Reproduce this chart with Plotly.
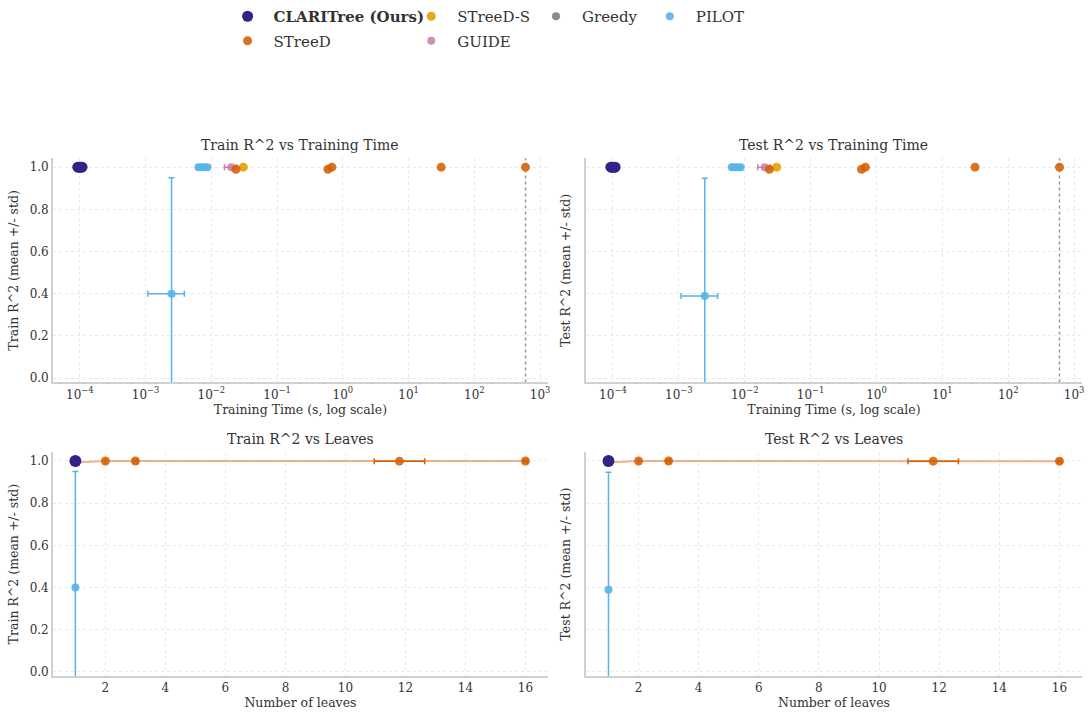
import plotly.graph_objects as go

# ---------------- data ----------------
TIME_LIMIT = 600  # seconds

# Training time (s) and R^2 per run
clari_time = [0.93e-4, 0.98e-4, 1.03e-4, 1.08e-4]
clari_train = [1.0, 1.0, 1.0, 1.0]
clari_test = [1.0, 1.0, 1.0, 1.0]

streed_time = [0.0237, 0.593, 0.68, 31.3, 600]
streed_train = [0.990, 0.990, 1.0, 1.0, 1.0]
streed_test = [0.990, 0.990, 1.0, 1.0, 1.0]

streeds_time = [0.0306]
streeds_train = [1.0]
streeds_test = [1.0]

guide_time = [0.0201]
guide_time_std = [0.0043]
guide_train = [1.0]
guide_test = [1.0]

greedy_time = [1.0e-4]
greedy_train = [1.0]
greedy_test = [1.0]

pilot_time = [6.35e-3, 7.0e-3, 7.8e-3, 8.7e-3, 2.48e-3]
pilot_time_std = [None, None, None, None, 1.4e-3]
pilot_train = [1.0, 1.0, 1.0, 1.0, 0.40]
pilot_train_std = [None, None, None, None, 0.55]
pilot_test = [1.0, 1.0, 1.0, 1.0, 0.39]
pilot_test_std = [None, None, None, None, 0.557]

# Number of leaves and R^2
clari_leaves = [1]
clari_leaves_train = [1.0]
clari_leaves_test = [1.0]

streed_leaves = [1, 2, 3, 11.8, 16]
streed_leaves_std = [None, None, 0.06, 0.84, 0.06]
streed_leaves_train = [0.993, 1.0, 1.0, 0.999, 1.0]
streed_leaves_test = [0.993, 1.0, 1.0, 0.999, 0.999]

other_leaves = [1]
streeds_leaves_r2 = [1.0]
guide_leaves_r2 = [1.0]
greedy_leaves_r2 = [1.0]

pilot_leaves = [1]
pilot_leaves_train = [0.40]
pilot_leaves_train_std = [0.55]
pilot_leaves_test = [0.39]
pilot_leaves_test_std = [0.557]

time_exponents = [-4, -3, -2, -1, 0, 1, 2, 3]
leaf_ticks = [2, 4, 6, 8, 10, 12, 14, 16]
r2_ticks = [0.0, 0.2, 0.4, 0.6, 0.8, 1.0]

panel_titles = ["Train R^2 vs Training Time", "Test R^2 vs Training Time",
                "Train R^2 vs Leaves", "Test R^2 vs Leaves"]

# ---------------- styling ----------------
FONT = "DejaVu Serif"
TXT = "#333333"
C = {
    "clari": "#332288",
    "streed": "#D55E00",
    "streeds": "#E69F00",
    "guide": "#CC79A7",
    "greedy": "#808080",
    "pilot": "#56B4E9",
}
W, H = 1090, 712

# panel domains (paper fractions)
XL = [53 / W, 549 / W]
XR = [587 / W, 1084 / W]
YT = [1 - 384 / H, 1 - 159 / H]
YB = [1 - 679 / H, 1 - 454 / H]

fig = go.Figure()


def err(vals, color, width=3, thick=1.5):
    if vals is None:
        return None
    return dict(type="data", array=vals, symmetric=True, color=color,
                thickness=thick, width=width, visible=True)


names = {
    "clari": "<b>CLARITree (Ours)</b>",
    "streed": "STreeD",
    "streeds": "STreeD-S",
    "guide": "GUIDE",
    "greedy": "Greedy",
    "pilot": "PILOT",
}
legends = {"clari": "legend", "streed": "legend", "streeds": "legend2",
           "guide": "legend2", "greedy": "legend3", "pilot": "legend4"}
ranks = {"clari": 1, "streed": 2, "streeds": 3, "guide": 4, "greedy": 5, "pilot": 6}


def add(key, x, y, xa, ya, show, size=8, ex=None, ey=None, opacity=0.9):
    color = C[key]
    fig.add_trace(go.Scatter(
        x=x, y=y, xaxis=xa, yaxis=ya, mode="markers", name=names[key],
        legend=legends[key], legendrank=ranks[key], showlegend=show,
        legendgroup=key,
        marker=dict(color=color, size=size, opacity=opacity, line=dict(width=0)),
        error_x=err(ex, color), error_y=err(ey, color),
    ))


# --- time panels ---
time_panels = [("x", "y", clari_train, streed_train, streeds_train, guide_train,
                greedy_train, pilot_train, pilot_train_std, True),
               ("x2", "y2", clari_test, streed_test, streeds_test, guide_test,
                greedy_test, pilot_test, pilot_test_std, False)]
for xa, ya, cl, st, ss, gu, gr, pi, pis, show in time_panels:
    add("greedy", greedy_time, gr, xa, ya, show)
    add("pilot", pilot_time, pi, xa, ya, show, ex=pilot_time_std, ey=pis)
    add("guide", guide_time, gu, xa, ya, show, ex=guide_time_std, opacity=0.85)
    add("streeds", streeds_time, ss, xa, ya, show, size=9)
    add("streed", streed_time, st, xa, ya, show, size=9, opacity=0.88)
    add("clari", clari_time, cl, xa, ya, show, size=11, opacity=1.0)

# --- leaves panels ---
leaf_panels = [("x3", "y3", clari_leaves_train, streed_leaves_train,
                pilot_leaves_train, pilot_leaves_train_std),
               ("x4", "y4", clari_leaves_test, streed_leaves_test,
                pilot_leaves_test, pilot_leaves_test_std)]
for xa, ya, cl, st, pi, pis in leaf_panels:
    add("greedy", other_leaves, greedy_leaves_r2, xa, ya, False)
    add("guide", other_leaves, guide_leaves_r2, xa, ya, False)
    add("streeds", other_leaves, streeds_leaves_r2, xa, ya, False)
    add("pilot", pilot_leaves, pi, xa, ya, False, ey=pis)
    # connecting line for STreeD configurations
    fig.add_trace(go.Scatter(
        x=streed_leaves, y=st, xaxis=xa, yaxis=ya, mode="lines", showlegend=False,
        line=dict(color="rgba(232,130,60,0.6)", width=2), hoverinfo="skip"))
    add("streed", streed_leaves, st, xa, ya, False, size=9, ex=streed_leaves_std,
        opacity=0.85)
    add("clari", clari_leaves, cl, xa, ya, False, size=12, opacity=1.0)

# ---------------- axes ----------------
TICKFONT = dict(family=FONT, size=12, color=TXT)
TITLEFONT = dict(family=FONT, size=12.5, color=TXT)
base = dict(showgrid=True, gridcolor="#e9e9e9", griddash="dot", gridwidth=1,
            showline=True, linecolor="#d0d0d0", linewidth=1.5, ticks="",
            zeroline=False, tickfont=TICKFONT)

time_vals = [10.0 ** e for e in time_exponents]
time_text = ["10<sup>%s%d</sup>" % ("\u2212" if e < 0 else "", abs(e)) for e in time_exponents]

for key, dom, anchor in [("xaxis", XL, "y"), ("xaxis2", XR, "y2")]:
    fig.layout[key] = dict(base, type="log", domain=dom, anchor=anchor,
                           range=[-4.41, 3.12], tickvals=time_vals, ticktext=time_text,
                           title=dict(text="Training Time (s, log scale)", standoff=4,
                                      font=TITLEFONT))
for key, dom, anchor in [("xaxis3", XL, "y3"), ("xaxis4", XR, "y4")]:
    fig.layout[key] = dict(base, domain=dom, anchor=anchor, range=[0.25, 16.75],
                           tickvals=leaf_ticks,
                           title=dict(text="Number of leaves", standoff=4,
                                      font=TITLEFONT))

yspec = [("yaxis", YT, "x", "Train", True), ("yaxis2", YT, "x2", "Test", False),
         ("yaxis3", YB, "x3", "Train", True), ("yaxis4", YB, "x4", "Test", False)]
for key, dom, anchor, split, labels in yspec:
    fig.layout[key] = dict(base, domain=dom, anchor=anchor, range=[-0.02, 1.042],
                           tickvals=r2_ticks, tickformat=".1f",
                           showticklabels=labels,
                           title=dict(text="%s R^2 (mean +/- std)" % split,
                                      standoff=8 if labels else 11, font=TITLEFONT))

# time-limit marker
for xr, yr in [("x", "y domain"), ("x2", "y2 domain")]:
    fig.add_shape(type="line", xref=xr, yref=yr,
                  x0=TIME_LIMIT, x1=TIME_LIMIT, y0=0, y1=1,
                  line=dict(color="#999999", width=1.5, dash="dot"), layer="below")

# panel titles
centers = [(XL, YT), (XR, YT), (XL, YB), (XR, YB)]
for text, (xd, yd) in zip(panel_titles, centers):
    fig.add_annotation(text=text, xref="paper", yref="paper",
                       x=(xd[0] + xd[1]) / 2, y=yd[1] + 3 / H,
                       xanchor="center", yanchor="bottom", showarrow=False,
                       font=dict(family=FONT, size=14, color=TXT))

# legends: four columns
leg = dict(orientation="v", yanchor="top", xanchor="left", y=1 - 0 / H,
           bgcolor="rgba(0,0,0,0)", font=dict(family=FONT, size=15, color=TXT),
           tracegroupgap=2, traceorder="grouped", itemwidth=42)
fig.update_layout(
    legend=dict(leg, x=222 / W),
    legend2=dict(leg, x=406 / W),
    legend3=dict(leg, x=531 / W),
    legend4=dict(leg, x=645 / W),
)

fig.update_layout(
    width=W, height=H, margin=dict(l=0, r=0, t=0, b=0),
    paper_bgcolor="white", plot_bgcolor="white",
    font=dict(family=FONT, color=TXT, size=12),
)

fig.write_html("out.html")
